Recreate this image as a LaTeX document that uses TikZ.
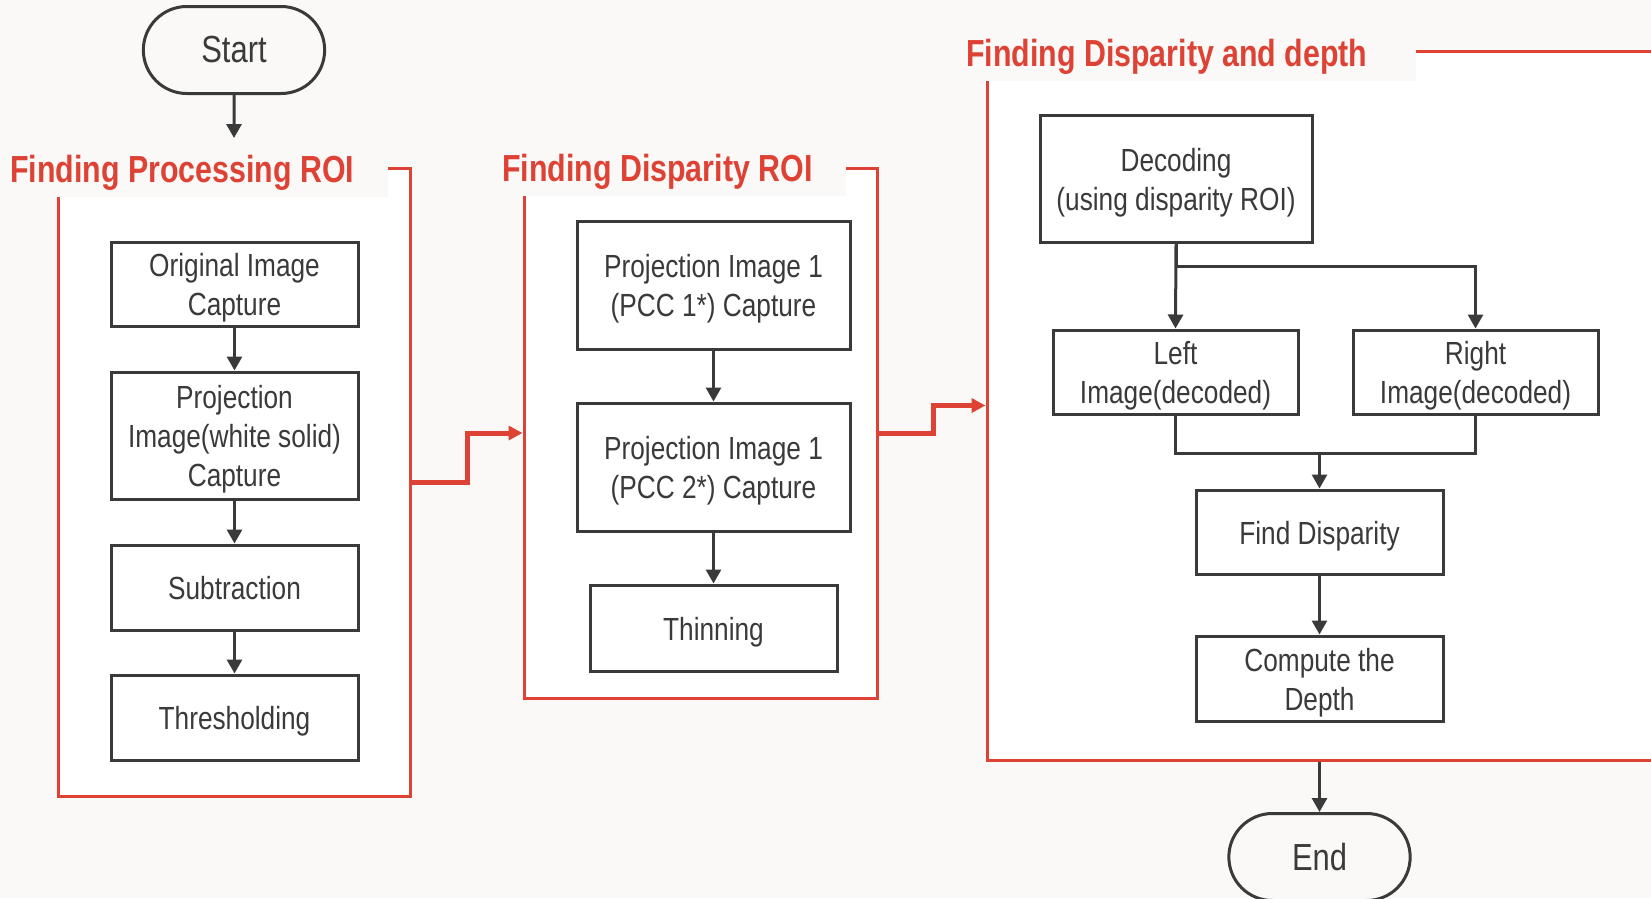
\documentclass[tikz,border=0pt]{standalone}
\usepackage{fontspec}
\setmainfont{Liberation Sans}[FakeStretch=0.82]
\newfontfamily\stagefont{Liberation Sans}[FakeStretch=0.805]
\usepackage{tikz}
\usetikzlibrary{shapes.misc, arrows.meta, positioning, calc}
\definecolor{pageBg}{RGB}{250, 249, 247}
\definecolor{frameRed}{RGB}{222, 66, 52}
\definecolor{lineDark}{RGB}{58, 58, 58}

\begin{document}
\begin{tikzpicture}[
    x=1pt, y=-1pt,
    node distance=43pt,
    terminal/.style={
        rounded rectangle,
        draw=lineDark,
        line width=3pt,
        minimum width=188pt,
        minimum height=87pt,
        fill=pageBg,
        text=lineDark,
        font=\fontsize{37.7}{44}\selectfont
    },
    process/.style={
        rectangle,
        draw=lineDark,
        line width=3pt,
        minimum width=247pt,
        minimum height=85pt,
        inner xsep=6pt,
        inner ysep=0pt,
        text height=31pt,
        text depth=7pt,
        align=center,
        fill=white,
        text=lineDark,
        font=\fontsize{32}{39}\selectfont
    },
    twolines/.style={text height=70pt},
    threelines/.style={text height=109pt},
    stage/.style={
        rectangle,
        draw=frameRed,
        line width=3pt,
        inner sep=0pt,
        fill=white
    },
    stagetitle/.style={
        anchor=base west,
        inner ysep=7pt,
        fill=pageBg,
        text=frameRed,
        font=\stagefont\fontsize{37.7}{44}\selectfont\bfseries
    },
    arrow/.style={
        -{Triangle[length=14pt, width=15pt]},
        line width=3pt,
        draw=lineDark
    },
    link/.style={
        line width=3pt,
        draw=lineDark
    },
    jump/.style={
        -{Triangle[length=14pt, width=14pt]},
        line width=5pt,
        draw=frameRed
    }
]

% Page
\useasboundingbox (0,0) rectangle (1651,898);
\fill[pageBg] (0,0) rectangle (1651,898);

% Stage frames
\node[stage, minimum width=352pt, minimum height=628pt] (roistage) at (234,482) {};
\node[stage, minimum width=353pt, minimum height=530pt] (dispstage) at (700.5,433) {};
\node[stage, minimum width=720pt, minimum height=709pt] (depthstage) at (1347,405.5) {};

% Stage titles
\node[stagetitle, inner xsep=34pt] (roititle) at (-24,182) {Finding Processing ROI};
\node[stagetitle, inner xsep=34pt] (disptitle) at (468,181) {Finding Disparity ROI};
\node[stagetitle, inner xsep=49pt] (depthtitle) at (917,66) {Finding Disparity and depth};

% Start
\node[terminal] (start) at (234,50) {Start};
\coordinate[below=43pt of start] (entry);

% Processing ROI
\node[process, twolines, minimum height=84pt] (orig) at (234.5,284) {Original Image\\Capture};
\node[process, threelines, minimum height=127pt, below=43pt of orig] (proj) {Projection\\Image(white solid)\\Capture};
\node[process, below=43pt of proj] (sub) {Subtraction};
\node[process, below=42pt of sub] (thresh) {Thresholding};

% Disparity ROI
\node[process, twolines, minimum width=273pt, minimum height=128pt] (pccone) at (713.5,285) {Projection Image 1\\(PCC 1*) Capture};
\node[process, twolines, minimum width=273pt, minimum height=128pt, below=51pt of pccone] (pcctwo) {Projection Image 1\\(PCC 2*) Capture};
\node[process, minimum height=86pt, below=51pt of pcctwo] (thin) {Thinning};

% Disparity and depth
\node[process, twolines, minimum width=272pt, minimum height=127pt] (decode) at (1176,178.5) {Decoding\\(using disparity ROI)};
\node[process, twolines, minimum width=245pt, minimum height=84pt] (leftimg) at (1175.5,372) {Left\\Image(decoded)};
\node[process, twolines, minimum width=245pt, minimum height=84pt, right=52pt of leftimg] (rightimg) {Right\\Image(decoded)};
\node[process, minimum height=84pt] (disp) at (1319.5,532) {Find Disparity};
\node[process, twolines, minimum height=85pt, below=59pt of disp] (depth) {Compute the\\Depth};

% End
\node[terminal] (stop) at (1319.5,857) {End};

% Arrows
\draw[arrow] (start) -- (entry);
\draw[arrow] (orig) -- (proj);
\draw[arrow] (proj) -- (sub);
\draw[arrow] (sub) -- (thresh);
\draw[arrow] (pccone) -- (pcctwo);
\draw[arrow] (pcctwo) -- (thin);
\draw[arrow] (decode.south) -- (leftimg.north);
\draw[arrow] (decode.south) -- ++(0,23) -| (rightimg.north);
\draw[link] (leftimg.south) -- ++(0,38) coordinate (merge) -| (rightimg.south);
\draw[arrow] (merge -| disp.north) -- (disp.north);
\draw[arrow] (disp) -- (depth);
\draw[arrow] (depthstage.south -| stop.north) -- (stop.north);

% Stage links
\draw[jump] (roistage.east) -- ++(56,0) |- (dispstage.west);
\draw[jump] (dispstage.east) -- ++(55,0) |- (depthstage.west);

\end{tikzpicture}
\end{document}
